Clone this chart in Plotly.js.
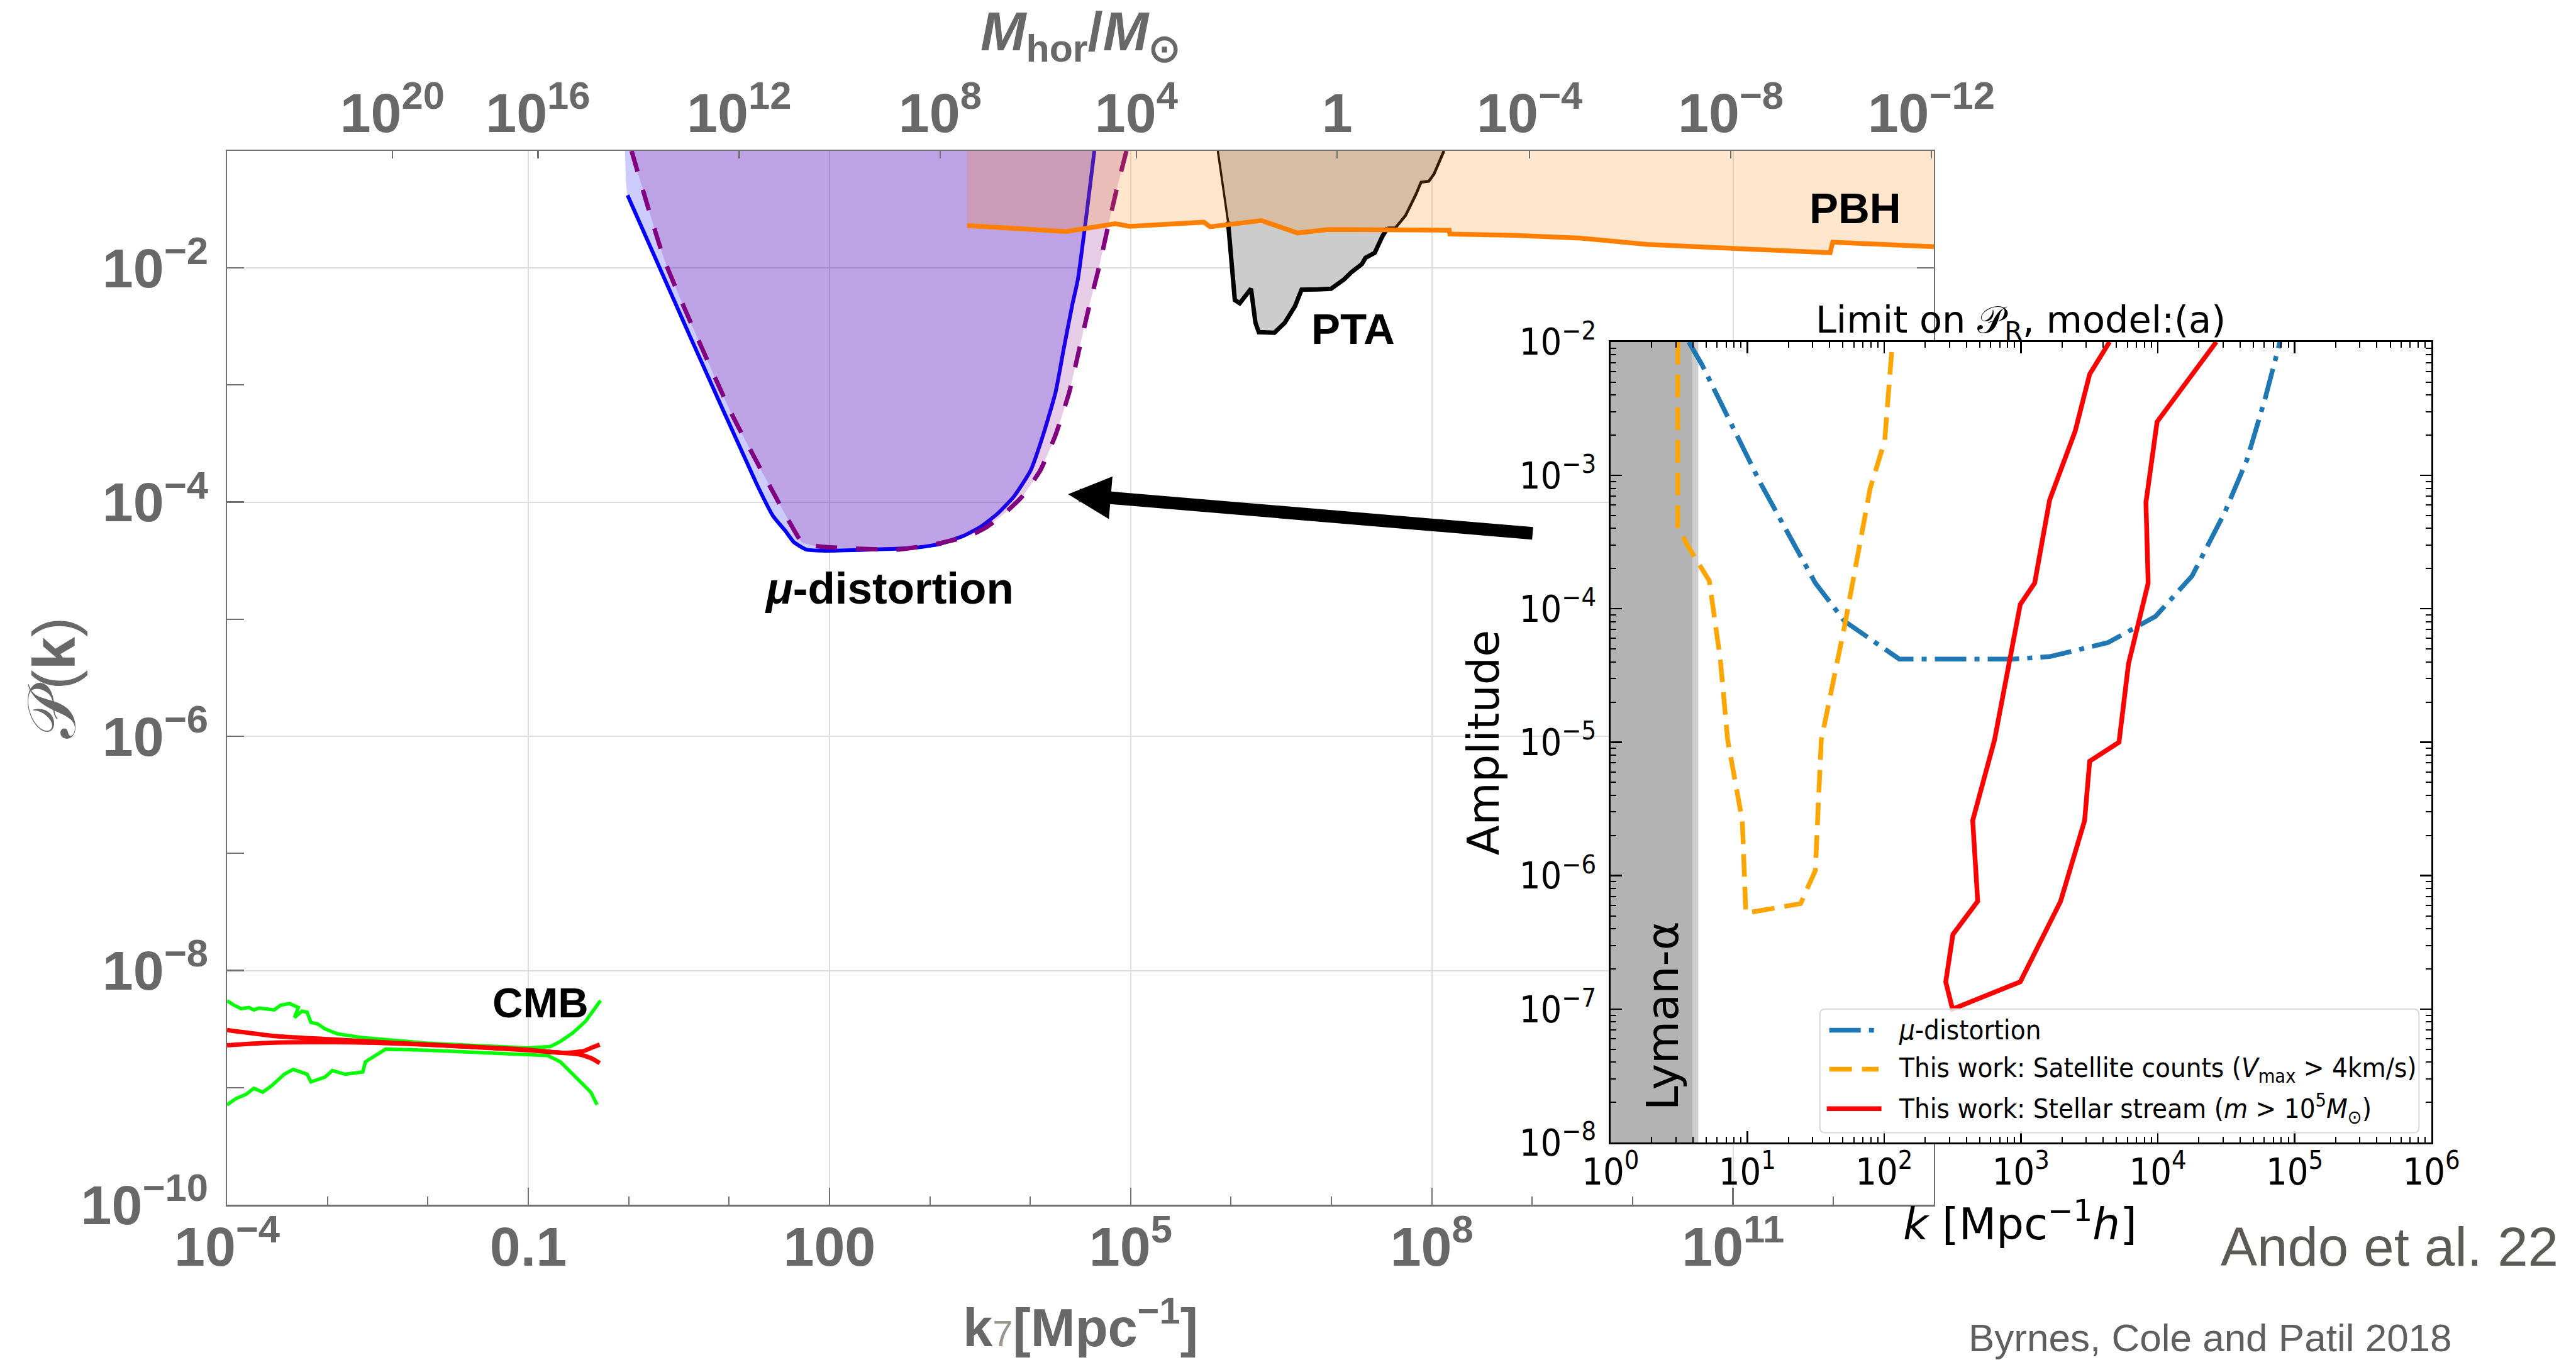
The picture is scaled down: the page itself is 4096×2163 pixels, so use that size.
<!DOCTYPE html>
<html>
<head>
<meta charset="utf-8">
<script src="https://cdn.plot.ly/plotly-3.0.1.min.js"></script>
<style>
  html, body { margin: 0; padding: 0; background: #ffffff; }
  #chart { width: 4096px; height: 2163px; }
</style>
</head>
<body>
<div id="chart"></div>
<script>
// ===== Main panel: constraints on the primordial power spectrum P(k) =====
const P_TOP = 0.1;            // upper end of the P(k) axis
const MU_EDGE_K = 0.923;      // left edge of the shaded mu-distortion region at the top

// mu-distortion bound (solid blue)
const muBlueK = [0.975, 4.05, 18.7, 27.4, 36.5, 44.2, 58.7, 86.1, 701, 1240, 2200, 3210, 4710, 6890, 1.01e4, 1.34e4, 1.79e4, 2.16e4, 2.62e4, 2.98e4, 3.52e4, 4.35e4];
const muBlueP = [4.18e-2, 2.65e-3, 1.45e-4, 7.62e-5, 5.66e-5, 4.56e-5, 3.94e-5, 3.85e-5, 4.08e-5, 4.38e-5, 5.19e-5, 6.17e-5, 7.96e-5, 1.12e-4, 1.87e-4, 3.72e-4, 8.73e-4, 2.06e-3, 4.83e-3, 7.98e-3, 2.30e-2, 0.1];

// mu-distortion bound (dashed purple)
const muDashK = [1.07, 2.30, 10.6, 40.2, 53.3, 78.5, 479, 1240, 2510, 3720, 5500, 8320, 1.26e4, 1.78e4, 2.45e4, 3.09e4, 3.89e4, 4.90e4, 6.07e4, 7.50e4, 9.08e4];
const muDashP = [0.1, 1.14e-2, 5.70e-4, 6.71e-5, 4.56e-5, 4.19e-5, 3.94e-5, 4.45e-5, 5.19e-5, 6.17e-5, 7.96e-5, 1.12e-4, 1.87e-4, 3.72e-4, 8.73e-4, 2.06e-3, 4.83e-3, 1.06e-2, 2.44e-2, 5.27e-2, 0.1];

// primordial black hole bound
const pbhK = [2350, 2.29e4, 7.0e4, 9.75e4, 5.38e5, 6.17e5, 2.01e6, 4.59e6, 9.33e6, 3.85e7, 1.49e8, 1.51e8, 6.53e8, 3.03e9, 1.40e10, 9.84e10, 9.27e11, 9.82e11, 1e13];
const pbhP = [2.30e-2, 2.05e-2, 2.39e-2, 2.27e-2, 2.46e-2, 2.25e-2, 2.54e-2, 1.99e-2, 2.13e-2, 2.12e-2, 2.10e-2, 1.95e-2, 1.90e-2, 1.80e-2, 1.59e-2, 1.47e-2, 1.35e-2, 1.66e-2, 1.52e-2];

// pulsar timing array bound (outline of the excluded region)
const ptaK = [7.38e5, 9.33e5, 1.05e6, 1.09e6, 1.22e6, 1.58e6, 1.75e6, 1.89e6, 2.70e6, 3.42e6, 4.33e6, 5.04e6, 7.36e6, 9.89e6, 1.33e7, 1.58e7, 2.01e7, 2.18e7, 2.70e7, 3.22e7, 3.62e7, 4.33e7, 5.47e7, 6.92e7, 7.80e7, 9.31e7, 1.05e8, 1.18e8, 1.32e8];
const ptaP = [0.1, 2.49e-2, 6.79e-3, 5.32e-3, 5.00e-3, 6.65e-3, 3.40e-3, 2.83e-3, 2.80e-3, 3.40e-3, 4.71e-3, 6.52e-3, 6.56e-3, 6.65e-3, 7.98e-3, 9.20e-3, 1.08e-2, 1.22e-2, 1.35e-2, 1.87e-2, 2.20e-2, 2.20e-2, 2.81e-2, 4.23e-2, 5.40e-2, 5.50e-2, 6.34e-2, 8.09e-2, 0.1];

// CMB measurement envelopes
const cmbGreenUpK = [1.0e-4, 1.16e-4, 1.38e-4, 1.65e-4, 1.85e-4, 2.08e-4, 2.95e-4, 3.41e-4, 4.18e-4, 5.13e-4, 4.70e-4, 5.58e-4, 6.28e-4, 6.85e-4, 7.93e-4, 9.44e-4, 1.26e-3, 2.25e-3, 9.62e-3, 9.84e-2, 0.166, 0.209, 0.279, 0.373, 0.524];
const cmbGreenUpP = [5.53e-9, 5.09e-9, 4.73e-9, 4.84e-9, 4.61e-9, 4.78e-9, 4.61e-9, 5.05e-9, 5.22e-9, 4.84e-9, 3.97e-9, 4.50e-9, 4.40e-9, 3.60e-9, 3.51e-9, 3.18e-9, 2.88e-9, 2.67e-9, 2.40e-9, 2.18e-9, 2.24e-9, 2.48e-9, 2.94e-9, 3.69e-9, 5.53e-9];
const cmbGreenLoK = [1.0e-4, 1.23e-4, 1.56e-4, 1.85e-4, 2.27e-4, 2.79e-4, 3.72e-4, 4.56e-4, 6.28e-4, 6.85e-4, 9.44e-4, 1.12e-3, 1.50e-3, 2.25e-3, 2.39e-3, 3.01e-3, 3.80e-3, 9.62e-3, 0.156, 0.209, 0.314, 0.420, 0.485];
const cmbGreenLoP = [7.13e-10, 8.07e-10, 8.79e-10, 9.86e-10, 9.14e-10, 1.04e-9, 1.30e-9, 1.43e-9, 1.30e-9, 1.12e-9, 1.23e-9, 1.40e-9, 1.30e-9, 1.36e-9, 1.66e-9, 1.88e-9, 2.13e-9, 2.09e-9, 1.88e-9, 1.66e-9, 1.17e-9, 9.14e-10, 7.13e-10];
const cmbRedUpK = [1.0e-4, 2.95e-4, 9.44e-4, 9.62e-3, 9.84e-2, 0.176, 0.314, 0.420, 0.515];
const cmbRedUpP = [3.10e-9, 2.76e-9, 2.60e-9, 2.33e-9, 2.11e-9, 2.01e-9, 1.93e-9, 1.79e-9, 1.62e-9];
const cmbRedLoK = [1.0e-4, 2.95e-4, 1.69e-3, 9.62e-3, 9.84e-2, 0.235, 0.352, 0.445, 0.515];
const cmbRedLoP = [2.30e-9, 2.42e-9, 2.44e-9, 2.33e-9, 2.09e-9, 1.98e-9, 2.05e-9, 2.22e-9, 2.33e-9];

// axis ticks of the main panel
const kMajorTicks = [1e-4, 0.1, 100, 1e5, 1e8, 1e11];
const kMajorText = ['10<sup>\u22124</sup>', '0.1', '100', '10<sup>5</sup>', '10<sup>8</sup>', '10<sup>11</sup>'];
const kMinorTicks = [1e-3, 1e-2, 1, 10, 1e3, 1e4, 1e6, 1e7, 1e9, 1e10, 1e12];
const pMajorTicks = [1e-10, 1e-8, 1e-6, 1e-4, 1e-2];
const pMajorText = ['10<sup>\u221210</sup>', '10<sup>\u22128</sup>', '10<sup>\u22126</sup>', '10<sup>\u22124</sup>', '10<sup>\u22122</sup>'];
const pMinorTicks = [1e-9, 1e-7, 1e-5, 1e-3];
// horizon mass scale along the top edge
const mHorTickK = [4.43e-3, 0.125, 12.6, 1265, 1.14e5, 1.14e7, 9.40e8, 9.48e10, 9.42e12];
const mHorTickText = ['10<sup>20</sup>', '10<sup>16</sup>', '10<sup>12</sup>', '10<sup>8</sup>', '10<sup>4</sup>', '1', '10<sup>\u22124</sup>', '10<sup>\u22128</sup>', '10<sup>\u221212</sup>'];

// ===== Inset: limit on P_R, model (a) =====
const A_MIN = 1e-8, A_MAX = 1e-2;
const lymanK = [1, 3.97, 4.38];     // Lyman-alpha excluded band (core, soft edge)
const insetMuK = [3.73, 4.66, 12.5, 31.4, 51.4, 129, 873, 1620, 4330, 9640, 1.78e4, 3.10e4, 4.49e4, 6.11e4, 7.82e4];
const insetMuA = [1.0e-2, 6.75e-3, 8.71e-4, 1.56e-4, 8.07e-5, 4.20e-5, 4.20e-5, 4.38e-5, 5.58e-5, 8.77e-5, 1.76e-4, 5.32e-4, 1.31e-3, 3.80e-3, 1.0e-2];
const satK = [3.10, 3.10, 3.64, 5.27, 6.34, 7.18, 9.18, 9.75, 24.5, 31.4, 34.7, 51.4, 79.1, 101, 115];
const satA = [1.0e-2, 4.16e-4, 3.00e-4, 1.62e-4, 4.20e-5, 1.04e-5, 2.59e-6, 5.24e-7, 6.17e-7, 1.09e-6, 1.04e-5, 7.45e-5, 8.02e-4, 1.82e-3, 1.0e-2];
const streamK = [4440, 3180, 2490, 1620, 1260, 989, 641, 444, 483, 318, 282, 316, 989, 1950, 2920, 3180, 5210, 6110, 8510, 8200, 9890, 2.68e4];
const streamA = [1.0e-2, 5.73e-3, 2.14e-3, 6.53e-4, 1.56e-4, 1.08e-4, 1.04e-5, 2.59e-6, 6.43e-7, 3.62e-7, 1.60e-7, 1.0e-7, 1.60e-7, 6.43e-7, 2.59e-6, 7.21e-6, 1.0e-5, 3.86e-5, 1.56e-4, 6.27e-4, 2.52e-3, 1.0e-2];
const insetKTicks = [1, 10, 100, 1e3, 1e4, 1e5, 1e6];
const insetKText = ['10<sup>0</sup>', '10<sup>1</sup>', '10<sup>2</sup>', '10<sup>3</sup>', '10<sup>4</sup>', '10<sup>5</sup>', '10<sup>6</sup>'];
const insetATicks = [1e-8, 1e-7, 1e-6, 1e-5, 1e-4, 1e-3, 1e-2];
const insetAText = ['10<sup>\u22128</sup>', '10<sup>\u22127</sup>', '10<sup>\u22126</sup>', '10<sup>\u22125</sup>', '10<sup>\u22124</sup>', '10<sup>\u22123</sup>', '10<sup>\u22122</sup>'];

// minor tick positions of the inset (2..9 within each decade)
function minorDecades(lo, hi) {
  const out = [];
  for (let e = lo; e < hi; e++) for (let m = 2; m <= 9; m++) out.push(m * Math.pow(10, e));
  return out;
}

// ----- fonts & colours -----
const NARROW = "'Liberation Sans Narrow', 'Arial Narrow', 'Liberation Sans', Arial, sans-serif";
const SANS = "'Liberation Sans', Arial, sans-serif";
const DJV = "'DejaVu Sans', sans-serif";
const DJVC = "'DejaVu Sans Condensed', 'DejaVu Sans', sans-serif";
const TXT_GRAY = '#686868';
const AX_GRAY = '#707070';

// inset series styles (shared by the curves and their legend keys)
const MU_STYLE = { color: '#1f77b4', width: 7.5, dash: '50px,13px,8px,13px' };
const SAT_STYLE = { color: '#ffa500', width: 7.5, dash: '36px,16px' };
const STREAM_STYLE = { color: '#ff0000', width: 7.5 };
const MU_NAME = '<i>\u03bc</i>-distortion';
const SAT_NAME = 'This work: Satellite counts (<i>V</i><sub>max</sub> &gt; 4km/s)';
const STREAM_NAME = 'This work: Stellar stream (<i>m</i> &gt; 10<sup>5</sup><i>M</i><sub>\u2299</sub>)';

// ----- traces -----
const traces = [];
const lineTrace = (x, y, line) => ({
  x, y, type: 'scatter', mode: 'lines', showlegend: false, hoverinfo: 'skip', line
});
const fillTrace = (x, y, fillcolor, shape) => ({
  x, y, type: 'scatter', mode: 'lines', fill: 'toself', fillcolor,
  line: shape ? { width: 0, shape, smoothing: 0.5 } : { width: 0 },
  showlegend: false, hoverinfo: 'skip'
});

// mu-distortion: blue region + line, then purple region + dashed line
traces.push(fillTrace([MU_EDGE_K].concat(muBlueK), [P_TOP].concat(muBlueP), 'rgba(0,0,255,0.2)', 'spline'));
traces.push(lineTrace(muBlueK, muBlueP, { color: '#0000ff', width: 6, shape: 'spline', smoothing: 0.5 }));
traces.push(fillTrace(muDashK, muDashP, 'rgba(128,0,128,0.2)', 'spline'));
traces.push(lineTrace(muDashK, muDashP, { color: '#800080', width: 7, dash: '34px,30px', shape: 'spline', smoothing: 0.5 }));

// PTA region and outline (heavier below the PBH curve)
traces.push(fillTrace(ptaK, ptaP, '#cccccc'));
traces.push(lineTrace(ptaK.slice(1, 21), ptaP.slice(1, 21), { color: '#000000', width: 7 }));
traces.push(lineTrace(ptaK.slice(0, 2), ptaP.slice(0, 2), { color: '#000000', width: 3.5 }));
traces.push(lineTrace(ptaK.slice(20), ptaP.slice(20), { color: '#000000', width: 4.5 }));

// PBH region + line
traces.push(fillTrace(pbhK.concat([pbhK[pbhK.length - 1], pbhK[0]]), pbhP.concat([P_TOP, P_TOP]), 'rgba(255,128,0,0.2)'));
traces.push(lineTrace(pbhK, pbhP, { color: '#ff8000', width: 7.5 }));

// CMB
traces.push(lineTrace(cmbGreenUpK, cmbGreenUpP, { color: '#00ff00', width: 5.5 }));
traces.push(lineTrace(cmbGreenLoK, cmbGreenLoP, { color: '#00ff00', width: 5.5 }));
traces.push(lineTrace(cmbRedUpK, cmbRedUpP, { color: '#ff0000', width: 7, shape: 'spline', smoothing: 0.6 }));
traces.push(lineTrace(cmbRedLoK, cmbRedLoP, { color: '#ff0000', width: 7, shape: 'spline', smoothing: 0.6 }));

// horizon-mass axis along the top shares the k scale
traces.push({ x: [], y: [], type: 'scatter', mode: 'lines', xaxis: 'x2', yaxis: 'y', showlegend: false, hoverinfo: 'skip' });

// ----- inset traces -----
const inset = { xaxis: 'x3', yaxis: 'y3' };
traces.push(Object.assign(fillTrace([lymanK[0], lymanK[1], lymanK[1], lymanK[0]], [A_MIN, A_MIN, A_MAX, A_MAX], '#b3b3b3'), inset));
traces.push(Object.assign(fillTrace([lymanK[1], lymanK[2], lymanK[2], lymanK[1]], [A_MIN, A_MIN, A_MAX, A_MAX], '#cdcdcd'), inset));
traces.push(Object.assign(lineTrace(insetMuK, insetMuA, MU_STYLE), inset, { name: MU_NAME }));
traces.push(Object.assign(lineTrace(satK, satA, SAT_STYLE), inset, { name: SAT_NAME }));
traces.push(Object.assign(lineTrace(streamK, streamA, STREAM_STYLE), inset, { name: STREAM_NAME }));

// ----- geometry helpers (reference pixels -> paper fractions) -----
const S = 0.987;
const ML = 361, MR = 230, MT = 240, MB = 247;
const W = 4096, H = 2163;
const PW = W - ML - MR, PH = H - MT - MB;
const px = v => (v * S - ML) / PW;
const py = v => (H - MB - v * S) / PH;
const lg = Math.log10;

// label positions (k, P) on the main axes
const posCMB = [0.133, 5.30e-9];
const posMu = [395, 1.85e-5];
const posPTA = [1.64e7, 2.99e-3];
const posPBH = [1.66e12, 3.22e-2];
const arrowTip = [2.38e4, 1.17e-4];
const arrowTail = [1.03e9, 5.41e-5];

// inset legend box and rows (reference pixels)
const LEG = { x0: 2931.8, x1: 3897, y0: 1626, y1: 1825.3, r: 9 };
const legRows = [
  { y: 1660, style: MU_STYLE, name: MU_NAME, k0: 2947, k1: 3026.5 },
  { y: 1723, style: SAT_STYLE, name: SAT_NAME, k0: 2947, k1: 3026.5 },
  { y: 1786.5, style: STREAM_STYLE, name: STREAM_NAME, k0: 2943, k1: 3031 }
];
const LEG_TEXT_X = 3057;

function roundedBox(b) {
  const rx = b.r * S / PW, ry = b.r * S / PH;
  const x0 = px(b.x0), x1 = px(b.x1), yT = py(b.y0), yB = py(b.y1);
  return 'M' + (x0 + rx) + ',' + yT + ' L' + (x1 - rx) + ',' + yT +
    ' Q' + x1 + ',' + yT + ' ' + x1 + ',' + (yT - ry) +
    ' L' + x1 + ',' + (yB + ry) + ' Q' + x1 + ',' + yB + ' ' + (x1 - rx) + ',' + yB +
    ' L' + (x0 + rx) + ',' + yB + ' Q' + x0 + ',' + yB + ' ' + x0 + ',' + (yB + ry) +
    ' L' + x0 + ',' + (yT - ry) + ' Q' + x0 + ',' + yT + ' ' + (x0 + rx) + ',' + yT + ' Z';
}

const shapes = [
  { type: 'path', xref: 'paper', yref: 'paper', path: roundedBox(LEG), layer: 'above',
    fillcolor: 'rgba(255,255,255,0.8)', line: { color: '#d8d8d8', width: 2 } }
].concat(legRows.map(r => ({
  type: 'line', xref: 'paper', yref: 'paper', layer: 'above',
  x0: px(r.k0), x1: px(r.k1), y0: py(r.y), y1: py(r.y),
  line: Object.assign({}, r.style)
})));

const tickFontMain = { family: NARROW, size: 88, color: TXT_GRAY, weight: 'bold' };

const annotations = [
  // axis titles of the main panel
  { xref: 'paper', yref: 'paper', x: px(81.7), y: 0.5, xanchor: 'center', yanchor: 'middle',
    textangle: -90, showarrow: false,
    text: '<span style="font-size:108px">\ud835\udcab</span>(<b>k</b>)', font: { family: SANS, size: 94, color: TXT_GRAY } },
  { xref: 'paper', yref: 'paper', x: px(1740.5), y: py(2133), xanchor: 'center', yanchor: 'middle',
    showarrow: false,
    text: '<b>k</b><span style="font-size:58px;color:#9a958f">7</span><b>[Mpc<sup>\u22121</sup>]</b>',
    font: { family: SANS, size: 85, color: TXT_GRAY } },
  { xref: 'paper', yref: 'paper', x: px(1740.5), y: py(57), xanchor: 'center', yanchor: 'middle',
    showarrow: false,
    text: '<b><i>M</i><sub>hor</sub>/<i>M</i><sub>\u2299</sub></b>',
    font: { family: SANS, size: 87, color: TXT_GRAY } },
  // region labels
  { xref: 'x', yref: 'y', x: lg(posCMB[0]), y: lg(posCMB[1]), showarrow: false,
    text: '<b>CMB</b>', font: { family: SANS, size: 67, color: '#000000' } },
  { xref: 'x', yref: 'y', x: lg(posMu[0]), y: lg(posMu[1]), showarrow: false,
    text: '<b><i>\u03bc</i>-distortion</b>', font: { family: SANS, size: 71, color: '#000000' } },
  { xref: 'x', yref: 'y', x: lg(posPTA[0]), y: lg(posPTA[1]), showarrow: false,
    text: '<b>PTA</b>', font: { family: SANS, size: 69, color: '#000000' } },
  { xref: 'x', yref: 'y', x: lg(posPBH[0]), y: lg(posPBH[1]), showarrow: false,
    text: '<b>PBH</b>', font: { family: SANS, size: 69, color: '#000000' } },
  // arrow pointing from the inset to the mu-distortion bound
  { xref: 'x', yref: 'y', axref: 'x', ayref: 'y',
    x: lg(arrowTip[0]), y: lg(arrowTip[1]), ax: lg(arrowTail[0]), ay: lg(arrowTail[1]),
    text: '', showarrow: true, arrowhead: 2, arrowsize: 0.68, arrowwidth: 20, arrowcolor: '#000000', standoff: 0 },
  // inset texts
  { xref: 'paper', yref: 'paper', x: px(3255), y: py(519), xanchor: 'center', yanchor: 'middle', showarrow: false,
    text: 'Limit on \ud835\udcab<sub>R</sub>, model:(a)', font: { family: DJV, size: 59, color: '#000000' } },
  { xref: 'paper', yref: 'paper', x: px(2391), y: py(1196), xanchor: 'center', yanchor: 'middle', showarrow: false,
    textangle: -90, text: 'Amplitude', font: { family: DJV, size: 70, color: '#000000' } },
  { xref: 'paper', yref: 'paper', x: px(3254), y: py(1968), xanchor: 'center', yanchor: 'middle', showarrow: false,
    text: '<i>k</i> [Mpc<sup>\u22121</sup><i>h</i>]', font: { family: DJV, size: 69, color: '#000000' } },
  { xref: 'paper', yref: 'paper', x: px(2679), y: py(1637), xanchor: 'center', yanchor: 'middle', showarrow: false,
    textangle: -90, text: 'Lyman-\u03b1', font: { family: DJV, size: 70, color: '#000000' } },
  // citations
  { xref: 'paper', yref: 'paper', x: px(3850), y: py(2009), xanchor: 'center', yanchor: 'middle', showarrow: false,
    text: 'Ando et al. 22', font: { family: SANS, size: 87, color: '#5c5a57' } },
  { xref: 'paper', yref: 'paper', x: px(3561), y: py(2156), xanchor: 'center', yanchor: 'middle', showarrow: false,
    text: 'Byrnes, Cole and Patil 2018', font: { family: SANS, size: 62, color: '#5f5f5f' } }
].concat(legRows.map(r => ({
  xref: 'paper', yref: 'paper', x: px(LEG_TEXT_X), y: py(r.y), xanchor: 'left', yanchor: 'middle',
  showarrow: false, text: r.name, font: { family: DJVC, size: 43.5, color: '#000000' }
})));

const layout = {
  width: W, height: H,
  margin: { l: ML, r: MR, t: MT, b: MB, pad: 0 },
  paper_bgcolor: '#ffffff', plot_bgcolor: '#ffffff',
  showlegend: false,
  xaxis: {
    type: 'log', range: [-4, 13], domain: [0, px(3115.5)], anchor: 'y',
    tickmode: 'array', tickvals: kMajorTicks, ticktext: kMajorText,
    ticks: 'inside', ticklen: 27, tickwidth: 2.5, tickcolor: AX_GRAY,
    showline: true, linecolor: AX_GRAY, linewidth: 2.5, mirror: true,
    showgrid: true, gridcolor: '#dedede', gridwidth: 2, zeroline: false,
    minor: { tickmode: 'array', tickvals: kMinorTicks, ticks: 'inside', ticklen: 13, tickwidth: 2, tickcolor: AX_GRAY, showgrid: false },
    tickfont: tickFontMain, ticklabelstandoff: -11
  },
  xaxis2: {
    type: 'log', range: [-4, 13], overlaying: 'x', side: 'top', anchor: 'y',
    tickmode: 'array', tickvals: mHorTickK, ticktext: mHorTickText,
    ticks: 'inside', ticklen: 12, tickwidth: 2.5, tickcolor: AX_GRAY,
    showline: false, showgrid: false, zeroline: false,
    tickfont: tickFontMain, ticklabelstandoff: 11
  },
  yaxis: {
    type: 'log', range: [-10, -1], domain: [0, 1], anchor: 'x',
    tickmode: 'array', tickvals: pMajorTicks, ticktext: pMajorText,
    ticks: 'inside', ticklen: 27, tickwidth: 2.5, tickcolor: AX_GRAY,
    showline: true, linecolor: AX_GRAY, linewidth: 2.5, mirror: 'allticks',
    showgrid: true, gridcolor: '#dedede', gridwidth: 2, zeroline: false,
    minor: { tickmode: 'array', tickvals: pMinorTicks, ticks: 'inside', ticklen: 13, tickwidth: 2, tickcolor: AX_GRAY, showgrid: false },
    tickfont: tickFontMain, ticklabelstandoff: 10
  },
  xaxis3: {
    type: 'log', range: [0, 6], domain: [px(2594.6), 1], anchor: 'y3',
    tickmode: 'array', tickvals: insetKTicks, ticktext: insetKText,
    ticks: 'inside', ticklen: 18, tickwidth: 2.5, tickcolor: '#000000',
    showline: true, linecolor: '#000000', linewidth: 3, mirror: 'allticks',
    showgrid: false, zeroline: false,
    minor: { tickmode: 'array', tickvals: minorDecades(0, 6), ticks: 'inside', ticklen: 9, tickwidth: 2, tickcolor: '#000000', showgrid: false },
    tickfont: { family: DJVC, size: 59, color: '#000000' }, ticklabelstandoff: -7
  },
  yaxis3: {
    type: 'log', range: [-8, -2], domain: [py(1841), py(551)], anchor: 'x3',
    tickmode: 'array', tickvals: insetATicks, ticktext: insetAText,
    ticks: 'inside', ticklen: 18, tickwidth: 2.5, tickcolor: '#000000',
    showline: true, linecolor: '#000000', linewidth: 3, mirror: 'allticks',
    showgrid: false, zeroline: false,
    minor: { tickmode: 'array', tickvals: minorDecades(-8, -2), ticks: 'inside', ticklen: 9, tickwidth: 2, tickcolor: '#000000', showgrid: false },
    tickfont: { family: DJVC, size: 59, color: '#000000' }, ticklabelstandoff: 8
  },
  shapes,
  annotations
};

Plotly.newPlot('chart', traces, layout, { staticPlot: true, displayModeBar: false });
</script>
</body>
</html>
